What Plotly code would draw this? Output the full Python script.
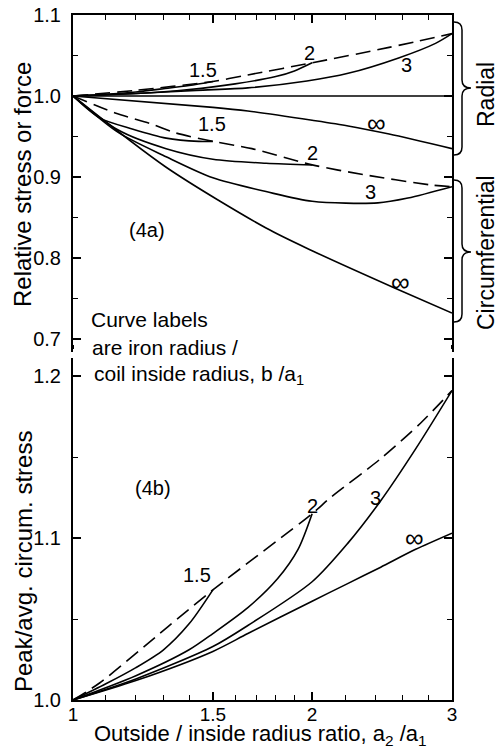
import math
import plotly.graph_objects as go

# ---------------- data ----------------
# Fig 4a - radial (upper group)
rad_env_x = [1, 1.2, 1.5, 1.66, 2, 2.5, 3]
rad_env_y = [1.0, 1.007, 1.018, 1.026, 1.041, 1.060, 1.077]
rad_15_x = [1, 1.1, 1.2, 1.3, 1.4, 1.5]
rad_15_y = [1.0, 1.002, 1.005, 1.009, 1.013, 1.018]
rad_2_x = [1, 1.2, 1.4, 1.6, 1.8, 1.9, 2]
rad_2_y = [1.0, 1.003, 1.008, 1.015, 1.024, 1.031, 1.041]
rad_3_x = [1, 1.2, 1.43, 1.66, 1.97, 2.22, 2.57, 2.86, 3]
rad_3_y = [1.0, 1.003, 1.007, 1.010, 1.0185, 1.028, 1.047, 1.065, 1.077]
rad_ref_x = [1, 3]
rad_ref_y = [1.0, 1.0]
rad_inf_x = [1, 1.5, 1.66, 2, 2.22, 2.5, 3]
rad_inf_y = [1.0, 0.986, 0.9815, 0.970, 0.963, 0.953, 0.935]

# Fig 4a - circumferential (lower group)
circ_env_x = [1, 1.13, 1.26, 1.34, 1.5, 1.68, 2, 2.32, 2.83, 3]
circ_env_y = [1.0, 0.979, 0.965, 0.955, 0.944, 0.935, 0.915, 0.903, 0.890, 0.888]
circ_15_x = [1, 1.08, 1.19, 1.31, 1.44, 1.5]
circ_15_y = [1.0, 0.973, 0.959, 0.948, 0.944, 0.944]
circ_2_x = [1, 1.14, 1.31, 1.5, 1.75, 2]
circ_2_y = [1.0, 0.958, 0.935, 0.922, 0.917, 0.915]
circ_3_x = [1, 1.14, 1.31, 1.5, 1.75, 2, 2.42, 2.64, 3]
circ_3_y = [1.0, 0.955, 0.925, 0.899, 0.882, 0.870, 0.868, 0.874, 0.888]
circ_inf_x = [1, 1.31, 1.75, 2, 2.54, 3]
circ_inf_y = [1.0, 0.912, 0.837, 0.809, 0.763, 0.732]

# Fig 4b - peak / average circumferential stress
pk_env_x = [1, 1.08, 1.315, 1.5, 2, 2.11, 2.44, 2.74, 3]
pk_env_y = [1.0, 1.0105, 1.045, 1.068, 1.115, 1.125, 1.149, 1.171, 1.191]
pk_15_x = [1, 1.1, 1.2, 1.3, 1.4, 1.5]
pk_15_y = [1.0, 1.010, 1.020, 1.031, 1.047, 1.068]
pk_2_x = [1, 1.2, 1.4, 1.5, 1.66, 1.81, 1.92, 2]
pk_2_y = [1.0, 1.015, 1.031, 1.041, 1.057, 1.075, 1.093, 1.115]
pk_3_x = [1, 1.2, 1.5, 1.66, 2, 2.22, 2.44, 2.7, 3]
pk_3_y = [1.0, 1.013, 1.033, 1.046, 1.073, 1.097, 1.123, 1.155, 1.191]
pk_inf_x = [1, 1.2, 1.5, 1.66, 2, 2.22, 2.44, 2.7, 3]
pk_inf_y = [1.0, 1.012, 1.030, 1.041, 1.061, 1.072, 1.082, 1.093, 1.103]

# axis ticks
x_major = [1, 1.5, 2, 3]
x_major_text = ["1", "1.5", "2", "3"]
x_minor = [1.1, 1.2, 1.3, 1.4, 1.6, 1.7, 1.8, 1.9, 2.2, 2.4, 2.6, 2.8]
ya_major = [0.7, 0.8, 0.9, 1.0, 1.1]
ya_major_text = ["0.7", "0.8", "0.9", "1.0", "1.1"]
ya_minor = [0.75, 0.85, 0.95, 1.05]
yb_major = [1.0, 1.1, 1.2]
yb_major_text = ["1.0", "1.1", "1.2"]
yb_minor = [1.05, 1.15]

# curve labels: text, x, y
top_labels = [("1.5", 1.458, 1.032), ("2", 1.987, 1.053), ("3", 2.633, 1.038),
              ("∞", 2.413, 0.967), ("1.5", 1.496, 0.966), ("2", 2.005, 0.930),
              ("3", 2.366, 0.881), ("∞", 2.581, 0.770), ("(4a)", 1.24, 0.835)]
bot_labels = [("1.5", 1.432, 1.077), ("2", 2.0, 1.120), ("3", 2.40, 1.125),
              ("∞", 2.694, 1.100), ("(4b)", 1.26, 1.131)]

# ---------------- layout geometry ----------------
W, H = 504, 750
ML, MR, MT, MB = 73, 52, 15, 50
PW, PH = W - ML - MR, H - MT - MB
FONT = "Liberation Sans, Arial, Helvetica, sans-serif"
LW = 1.6
DASH = "15px,7px"


def px(x):
    return (x - ML) / PW


def py(y):
    return (H - MB - y) / PH


fig = go.Figure()


def add(xs, ys, top, dashed=False):
    fig.add_trace(go.Scatter(
        x=xs, y=ys, mode="lines",
        xaxis="x2" if top else "x", yaxis="y" if top else "y2",
        line=dict(color="black", width=LW, dash=DASH if dashed else "solid",
                  shape="spline", smoothing=0.8),
        hoverinfo="skip", showlegend=False))


add(rad_env_x, rad_env_y, True, True)
add(rad_15_x, rad_15_y, True)
add(rad_2_x, rad_2_y, True)
add(rad_3_x, rad_3_y, True)
add(rad_ref_x, rad_ref_y, True)
add(rad_inf_x, rad_inf_y, True)
add(circ_env_x, circ_env_y, True, True)
add(circ_15_x, circ_15_y, True)
add(circ_2_x, circ_2_y, True)
add(circ_3_x, circ_3_y, True)
add(circ_inf_x, circ_inf_y, True)
add(pk_env_x, pk_env_y, False, True)
add(pk_15_x, pk_15_y, False)
add(pk_2_x, pk_2_y, False)
add(pk_3_x, pk_3_y, False)
add(pk_inf_x, pk_inf_y, False)

xr = [0, math.log10(3)]
top_dom = [py(352), 1.0]
bot_dom = [0.0, py(358)]
ya_range = [1.1 - (352 - 15) / 810, 1.1]
yb_range = [1.0, 1.0 + (700 - 358) / 1620]

tickfont = dict(family=FONT, size=20, color="black")
common_x = dict(type="log", range=xr, showgrid=False, zeroline=False,
                showline=True, linecolor="black", linewidth=2,
                ticks="inside", ticklen=8, tickwidth=1.5, tickcolor="black",
                tickvals=x_major, ticktext=x_major_text,
                minor=dict(tickvals=x_minor, ticks="inside", ticklen=5,
                           tickwidth=1.2, tickcolor="black"))
common_y = dict(showgrid=False, zeroline=False, showline=True,
                linecolor="black", linewidth=2, mirror="ticks",
                ticks="inside", ticklen=8, tickwidth=1.5, tickcolor="black",
                tickfont=tickfont, ticklabelstandoff=6)

fig.update_layout(
    width=W, height=H,
    margin=dict(l=ML, r=MR, t=MT, b=MB, autoexpand=False),
    paper_bgcolor="white", plot_bgcolor="white", showlegend=False,
    font=dict(family=FONT, color="black"),
    xaxis=dict(common_x, anchor="y2", side="bottom",
               tickfont=dict(family=FONT, size=19, color="black"),
               ticklabelstandoff=-4, domain=[0, 1]),
    xaxis2=dict(common_x, anchor="y", side="top", showticklabels=False,
                matches="x", domain=[0, 1]),
    yaxis=dict(common_y, domain=top_dom, range=ya_range, anchor="x2",
               tickvals=ya_major, ticktext=ya_major_text,
               minor=dict(tickvals=ya_minor, ticks="inside", ticklen=5,
                          tickwidth=1.2, tickcolor="black")),
    yaxis2=dict(common_y, domain=bot_dom, range=yb_range, anchor="x",
                tickvals=yb_major, ticktext=yb_major_text,
                minor=dict(tickvals=yb_minor, ticks="inside", ticklen=5,
                           tickwidth=1.2, tickcolor="black")),
)


def txt(size):
    return dict(family=FONT, size=size, color="black")


ann = []
for t, x, y in top_labels:
    ann.append(dict(text=t, x=math.log10(x), y=y, xref="x2", yref="y",
                    xanchor="center", yanchor="middle", showarrow=False,
                    font=txt(26 if t == "∞" else 20)))
for t, x, y in bot_labels:
    ann.append(dict(text=t, x=math.log10(x), y=y, xref="x", yref="y2",
                    xanchor="center", yanchor="middle", showarrow=False,
                    font=txt(26 if t == "∞" else 20)))

note_lines = [("Curve labels", 89, 319), ("are iron radius /", 90, 347),
              ("coil inside radius, b /a<sub>1</sub>", 92, 375)]
for t, x, y in note_lines:
    ann.append(dict(text=t, x=px(x), y=py(y), xref="paper", yref="paper",
                    xanchor="left", yanchor="middle", showarrow=False,
                    font=txt(21)))


def side_text(t, x, y, angle=-90, size=24):
    ann.append(dict(text=t, x=px(x), y=py(y), xref="paper", yref="paper",
                    xanchor="center", yanchor="middle", textangle=angle,
                    showarrow=False, font=txt(size)))


side_text("Relative stress or force", 22, 185)
side_text("Peak/avg. circum. stress", 23, 562)
side_text("Outside / inside radius ratio, a<sub>2</sub> /a<sub>1</sub>", 260, 735, 0, 22)
side_text("Radial", 486, 95, size=23)
side_text("Circumferential", 486, 253, size=23)
fig.update_layout(annotations=ann)


def path(points):
    s = ""
    for cmd, pts in points:
        s += cmd + " " + " ".join(f"{px(a):.5f},{py(b):.5f}" for a, b in pts) + " "
    return s.strip()


def brace(y0, ym, y1, xe=454, xv=462, xt=471):
    return path([("M", [(xe, y0)]), ("Q", [(xv, y0), (xv, y0 + 8)]),
                 ("L", [(xv, ym - 8)]), ("Q", [(xv, ym), (xt, ym)]),
                 ("Q", [(xv, ym), (xv, ym + 8)]), ("L", [(xv, y1 - 8)]),
                 ("Q", [(xv, y1), (xe, y1)])])


def zig(x):
    return path([("M", [(x, 345)]), ("L", [(x, 349), (x - 5, 352), (x + 4, 356),
                                           (x, 359), (x, 363)])])


shapes = [
    dict(type="path", path=brace(22, 88, 155), xref="paper", yref="paper",
         line=dict(color="black", width=1.5)),
    dict(type="path", path=brace(180, 252, 322), xref="paper", yref="paper",
         line=dict(color="black", width=1.5)),
    dict(type="path", path=zig(73), xref="paper", yref="paper",
         line=dict(color="black", width=2)),
    dict(type="path", path=zig(452), xref="paper", yref="paper",
         line=dict(color="black", width=2)),
]
fig.update_layout(shapes=shapes)

fig.write_html(
    "out.html",
    config={"displayModeBar": False},
    post_script="document.body.style.margin='0px';"
                "document.body.style.padding='0px';"
                "document.body.style.overflow='hidden';")
